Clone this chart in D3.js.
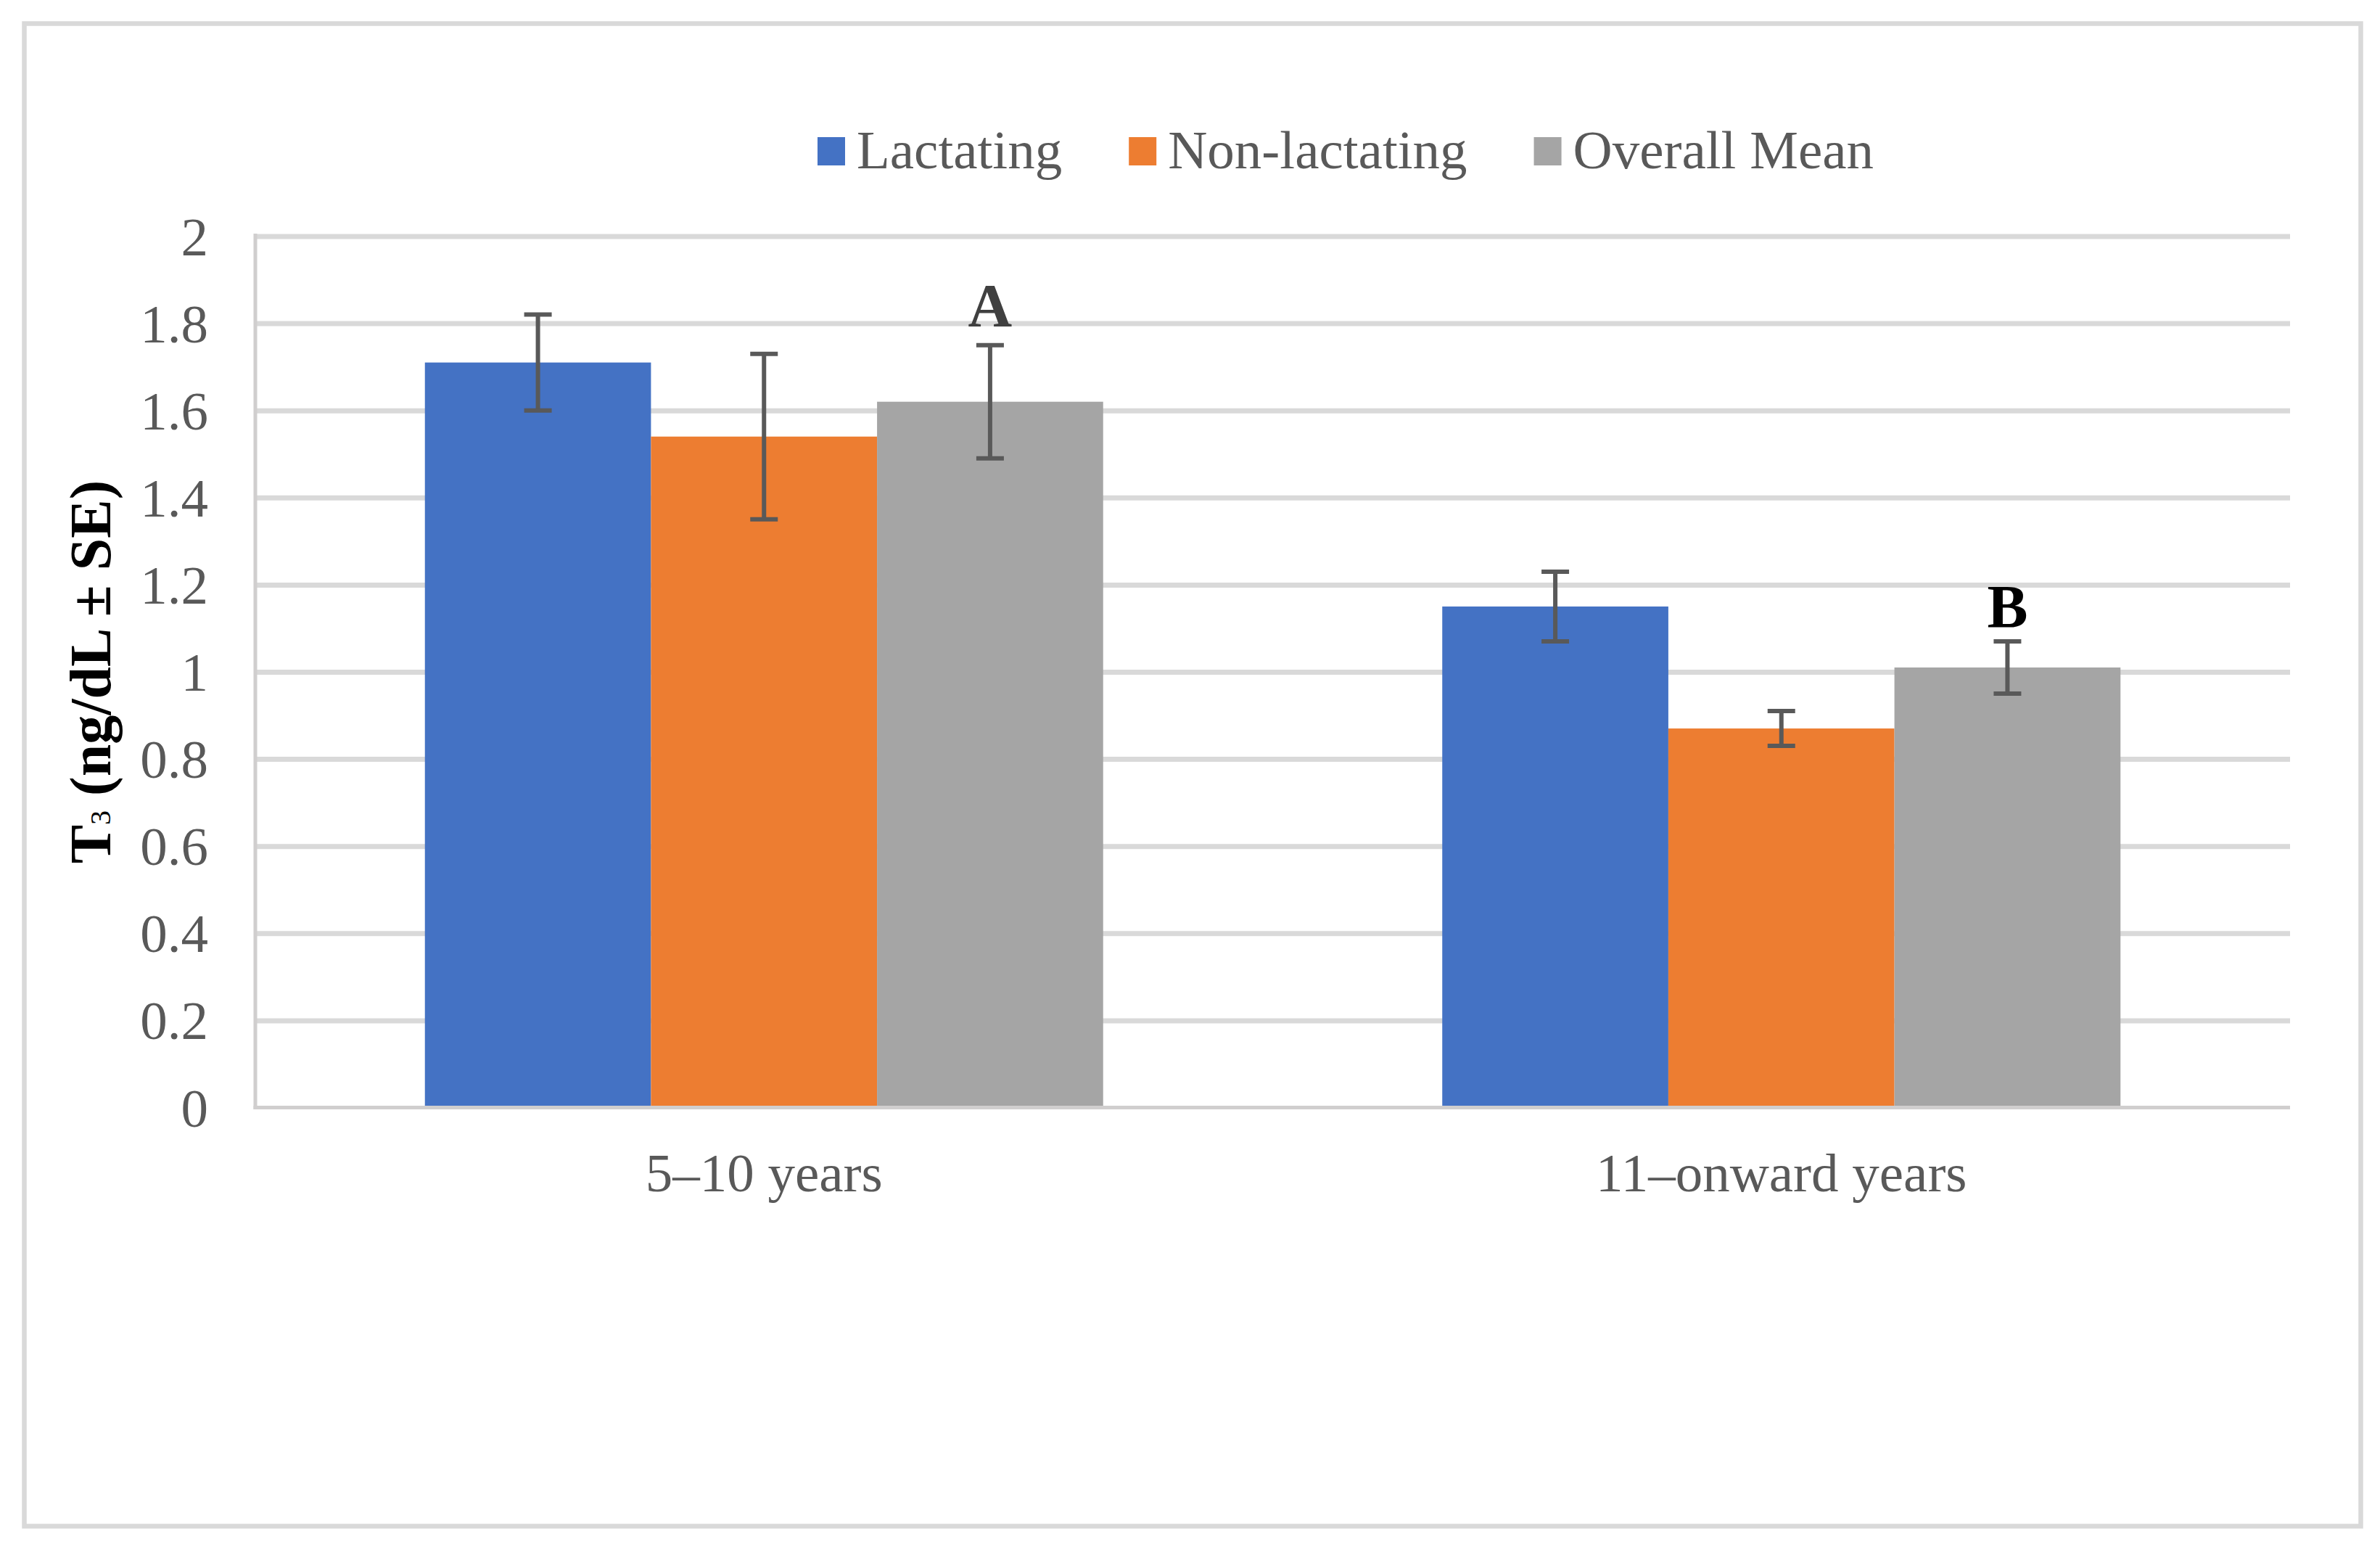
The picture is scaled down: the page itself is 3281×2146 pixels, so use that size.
<!DOCTYPE html>
<html>
<head>
<meta charset="utf-8">
<script src="https://cdn.jsdelivr.net/npm/d3@7"></script>
<style>
  body { margin: 0; background: #fff; }
  text { font-family: "Liberation Serif", "Times New Roman", serif; }
</style>
</head>
<body>
<svg id="chart" width="3281" height="2146"></svg>
<script>
/* chart data */
const groups = ['5\u201310 years', '11\u2013onward years'];
const seriesNames = ['Lactating', 'Non-lactating', 'Overall Mean'];
const lactating = [1.71, 1.15];
const nonLactating = [1.54, 0.87];
const overallMean = [1.62, 1.01];
const lactatingSE = [0.11, 0.08];
const nonLactatingSE = [0.19, 0.04];
const overallMeanSE = [0.13, 0.06];
const letters = ['A', 'B'];   // sits over the overall mean bars
const yTicks = [0, 0.2, 0.4, 0.6, 0.8, 1, 1.2, 1.4, 1.6, 1.8, 2];

const colors = {
    series: ['#4472C4', '#ED7D31', '#A5A5A5'],
    grid: '#D9D9D9',
    axis: '#D0CECE',
    text: '#595959',
    err: '#595959'
};

const plot = {left: 352, right: 3157, top: 325.5, bottom: 1526.5};
const FONT = 75;

const svg = d3.select('#chart');

// outer chart border
svg.append('rect')
    .attr('x', 33.5).attr('y', 32.5)
    .attr('width', 3221).attr('height', 2071)
    .attr('fill', 'none')
    .attr('stroke', colors.grid)
    .attr('stroke-width', 6.5);

const y = d3.scaleLinear().domain([0, 2]).range([plot.bottom, plot.top]);
const x0 = d3.scaleBand().domain(groups).range([plot.left, plot.right]).paddingInner(0).paddingOuter(0);
// excel gap width 150%: 0.75 bar of space on each side of the group
const x1 = d3.scaleBand().domain(seriesNames)
    .range([0, x0.bandwidth()]).paddingInner(0).paddingOuter(0.75);

// gridlines
const gridAxis = d3.axisLeft(y).tickValues(yTicks.filter(d => d > 0))
    .tickSize(-(plot.right - plot.left)).tickFormat('');
const grid = svg.append('g')
    .attr('transform', `translate(${plot.left},0)`)
    .call(gridAxis);
grid.select('.domain').remove();
grid.selectAll('line').attr('stroke', colors.grid).attr('stroke-width', 7);

// tick labels
const yAxis = svg.append('g')
    .attr('transform', `translate(287,0)`)
    .call(d3.axisLeft(y).tickValues(yTicks).tickSize(0).tickPadding(0).tickFormat(d3.format('')));
yAxis.select('.domain').remove();
yAxis.selectAll('text')
    .attr('font-size', FONT)
    .attr('fill', colors.text)
    .attr('text-anchor', 'end')
    .attr('dy', '0.34em')
    .style('font-family', '"Liberation Serif", serif');

// axis lines
svg.append('line')
    .attr('x1', plot.left).attr('x2', plot.left)
    .attr('y1', plot.top - 3.5).attr('y2', plot.bottom + 2.5)
    .attr('stroke', colors.axis).attr('stroke-width', 5);
svg.append('line')
    .attr('x1', plot.left - 2.5).attr('x2', plot.right)
    .attr('y1', plot.bottom).attr('y2', plot.bottom)
    .attr('stroke', colors.axis).attr('stroke-width', 5);

// bars
const values = [lactating, nonLactating, overallMean];
const errors = [lactatingSE, nonLactatingSE, overallMeanSE];
const barData = [];
groups.forEach((g, gi) => {
    seriesNames.forEach((s, si) => {
        barData.push({group: g, series: s, si: si, gi: gi, value: values[si][gi], se: errors[si][gi]});
    });
});

svg.append('g').selectAll('rect')
    .data(barData)
    .join('rect')
    .attr('x', d => x0(d.group) + x1(d.series))
    .attr('y', d => y(d.value))
    .attr('width', x1.bandwidth())
    .attr('height', d => y(0) - y(d.value) - 2.5)
    .attr('fill', d => colors.series[d.si]);

// error bars
const CAP = 38;
const errG = svg.append('g').attr('stroke', colors.err).attr('stroke-width', 6);
barData.forEach(d => {
    const cx = x0(d.group) + x1(d.series) + x1.bandwidth() / 2;
    errG.append('line')
        .attr('x1', cx).attr('x2', cx)
        .attr('y1', y(d.value + d.se)).attr('y2', y(d.value - d.se));
    errG.append('line')
        .attr('x1', cx - CAP / 2).attr('x2', cx + CAP / 2)
        .attr('y1', y(d.value + d.se)).attr('y2', y(d.value + d.se));
    errG.append('line')
        .attr('x1', cx - CAP / 2).attr('x2', cx + CAP / 2)
        .attr('y1', y(d.value - d.se)).attr('y2', y(d.value - d.se));
});

// significance letters
svg.append('g').selectAll('text')
    .data(groups)
    .join('text')
    .attr('x', (g) => x0(g) + x1('Overall Mean') + x1.bandwidth() / 2)
    .attr('y', (g, i) => y(overallMean[i] + overallMeanSE[i]) - (i === 0 ? 26 : 19))
    .attr('text-anchor', 'middle')
    .attr('font-size', 84)
    .attr('font-weight', 'bold')
    .attr('fill', (g, i) => i === 0 ? '#404040' : '#000')
    .text((g, i) => letters[i]);

// category labels
svg.append('g').selectAll('text')
    .data(groups)
    .join('text')
    .attr('x', g => x0(g) + x0.bandwidth() / 2)
    .attr('y', 1642)
    .attr('text-anchor', 'middle')
    .attr('font-size', FONT)
    .attr('fill', colors.text)
    .text(g => g);

// y axis title
const title = svg.append('text')
    .attr('transform', `translate(152,${(plot.top + plot.bottom) / 2}) rotate(-90)`)
    .attr('text-anchor', 'middle')
    .attr('font-size', 80)
    .attr('font-weight', 'bold')
    .attr('fill', '#000');
title.append('tspan').text('T');
title.append('tspan').attr('font-size', 40).attr('font-weight', 'normal').text('3');
title.append('tspan').text(' (ng/dL \u00B1 SE)');

// legend
const legend = svg.append('g');
let lx = 1127;
seriesNames.forEach((name, i) => {
    legend.append('rect')
        .attr('x', lx).attr('y', 189)
        .attr('width', 38).attr('height', 39)
        .attr('fill', colors.series[i]);
    const t = legend.append('text')
        .attr('x', lx + 54).attr('y', 232)
        .attr('font-size', FONT)
        .attr('fill', colors.text)
        .text(name);
    lx += 54 + t.node().getComputedTextLength() + 92;
});
</script>
</body>
</html>
